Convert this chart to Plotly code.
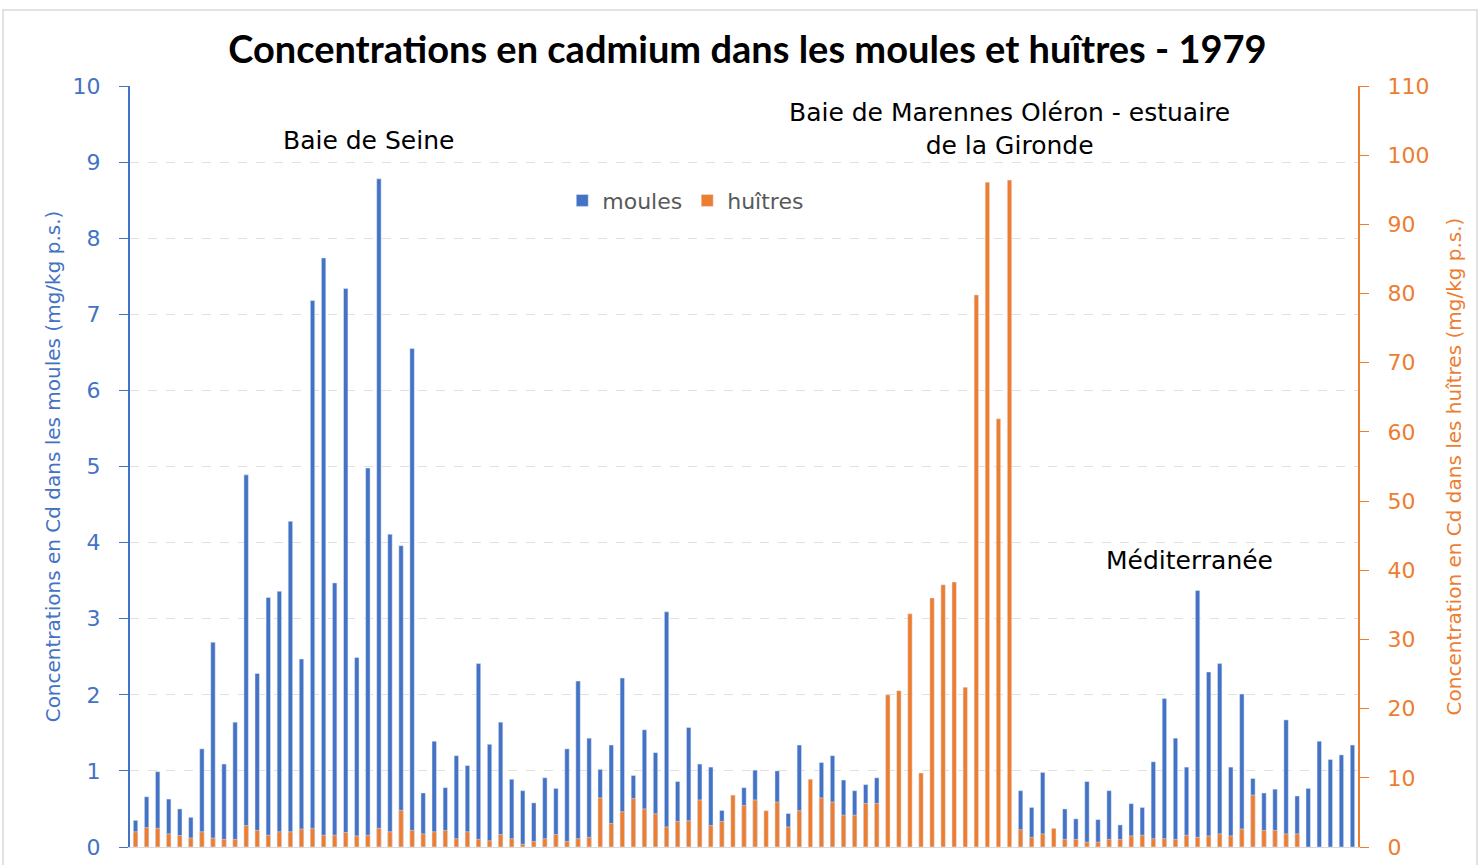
import plotly.graph_objects as go

stations = list(range(111))

moules = [0.35, 0.66, 0.99, 0.63, 0.50, 0.39, 1.29, 2.69, 1.09, 1.64,
          4.89, 2.28, 3.28, 3.36, 4.28, 2.47, 7.18, 7.74, 3.47, 7.34,
          2.49, 4.98, 8.78, 4.11, 3.96, 6.55, 0.71, 1.39, 0.78, 1.20,
          1.07, 2.41, 1.35, 1.64, 0.89, 0.74, 0.58, 0.91, 0.77, 1.29,
          2.18, 1.43, 1.02, 1.34, 2.22, 0.94, 1.54, 1.24, 3.09, 0.86,
          1.57, 1.09, 1.05, 0.48, 0.0, 0.78, 1.01, 0.0, 1.00, 0.44,
          1.34, 0.0, 1.11, 1.20, 0.88, 0.74, 0.82, 0.91, None, None,
          None, None, None, None, None, None, None, None, None, None,
          0.74, 0.52, 0.98, 0.0, 0.50, 0.37, 0.86, 0.36, 0.74, 0.29,
          0.57, 0.52, 1.12, 1.95, 1.43, 1.05, 3.37, 2.30, 2.41, 1.05,
          2.01, 0.90, 0.71, 0.76, 1.67, 0.67, 0.77, 1.39, 1.15, 1.21,
          1.34]

huitres = [2.2, 2.8, 2.7, 1.9, 1.65, 1.3, 2.2, 1.3, 1.1, 1.1,
           3.1, 2.4, 1.7, 2.2, 2.2, 2.6, 2.7, 1.7, 1.7, 2.1,
           1.6, 1.7, 2.7, 2.2, 5.3, 2.4, 1.9, 2.2, 2.4, 1.2,
           2.2, 1.1, 0.9, 1.8, 1.2, 0.4, 0.8, 1.2, 1.8, 0.8,
           1.2, 1.4, 7.1, 3.4, 5.1, 7.0, 5.5, 4.8, 2.9, 3.7,
           3.8, 6.8, 3.1, 3.7, 7.5, 6.0, 6.8, 5.25, 6.5, 2.9,
           5.25, 9.8, 7.1, 6.5, 4.6, 4.6, 6.3, 6.3, 22.0, 22.6,
           33.7, 10.7, 36.0, 37.9, 38.3, 23.1, 79.8, 96.1, 61.9, 96.4,
           2.5, 1.4, 1.9, 2.7, 1.1, 1.1, 0.7, 0.7, 1.1, 1.1,
           1.6, 1.7, 1.2, 1.2, 1.1, 1.7, 1.4, 1.6, 1.9, 1.6,
           2.6, 7.5, 2.4, 2.4, 1.9, 1.9, None, None, None, None,
           None]

BLUE = "#4472C4"
ORANGE = "#ED7D31"
FONT = "DejaVu Sans"

fig = go.Figure()
fig.add_trace(go.Bar(x=stations, y=moules, name="moules", marker_color=BLUE,
                     width=0.4, yaxis="y"))
fig.add_trace(go.Bar(x=stations, y=huitres, name="huîtres", marker_color=ORANGE,
                     width=0.4, yaxis="y2"))

fig.update_layout(
    width=1480, height=865,
    margin=dict(l=130, r=122, t=86, b=18),
    paper_bgcolor="white", plot_bgcolor="white",
    barmode="overlay",
    font=dict(family=FONT, size=19, color="#595959"),
    title=dict(text="<b>Concentrations en cadmium dans les moules et huîtres - 1979</b>",
               x=0.505, xanchor="center", y=0.942, yanchor="middle",
               font=dict(family="Lato", size=38, color="black")),
    xaxis=dict(range=[-0.5, 110.5], showticklabels=False, showgrid=False,
               zeroline=False, showline=True, linecolor="#D9D9D9", ticks="",
               automargin=False),
    yaxis=dict(range=[0, 10], dtick=1, showgrid=True, gridcolor="#E0E0E0",
               griddash="dash", zeroline=False, showline=True, linecolor=BLUE,
               linewidth=2, ticks="outside", ticklen=9, tickcolor=BLUE,
               ticklabelstandoff=14,
               tickfont=dict(color=BLUE, size=22, family=FONT), automargin=False,
               title=dict(text="Concentrations en Cd dans les moules (mg/kg p.s.)",
                          font=dict(color=BLUE, size=20, family=FONT), standoff=7)),
    yaxis2=dict(range=[0, 110], dtick=10, overlaying="y", side="right",
                showgrid=False, zeroline=False, showline=True, linecolor=ORANGE,
                linewidth=2, ticks="outside", ticklen=9, tickcolor=ORANGE,
                ticklabelstandoff=14,
                tickfont=dict(color=ORANGE, size=22, family=FONT), automargin=False,
                title=dict(text="Concentration en Cd dans les huîtres (mg/kg p.s.)",
                           font=dict(color=ORANGE, size=20, family=FONT), standoff=19)),
    legend=dict(orientation="h", x=0.352, y=0.877, xanchor="left", yanchor="top",
                bgcolor="rgba(0,0,0,0)", font=dict(size=22, color="#595959", family=FONT),
                itemwidth=30, traceorder="normal"),
    showlegend=True,
)

ann_font = dict(family=FONT, size=25, color="black")
fig.add_annotation(text="Baie de Seine", x=21.1, y=9.29, xref="x", yref="y",
                   showarrow=False, font=ann_font)
fig.add_annotation(text="Baie de Marennes Oléron - estuaire<br>de la Gironde",
                   x=79, y=9.44, xref="x", yref="y", showarrow=False, font=ann_font)
fig.add_annotation(text="Méditerranée", x=95.3, y=3.76, xref="x", yref="y",
                   showarrow=False, font=ann_font)

# outer chart border
fig.add_shape(type="rect", xref="paper", yref="paper",
              x0=(3 - 130) / 1228, x1=(1477 - 130) / 1228,
              y0=(847 - 880) / 761, y1=(847 - 10) / 761,
              line=dict(color="#D9D9D9", width=1.5), fillcolor="rgba(0,0,0,0)",
              layer="below")

fig.write_html("out.html", config={"displayModeBar": False},
               post_script="document.body.style.margin='0';document.body.style.overflow='hidden';")
